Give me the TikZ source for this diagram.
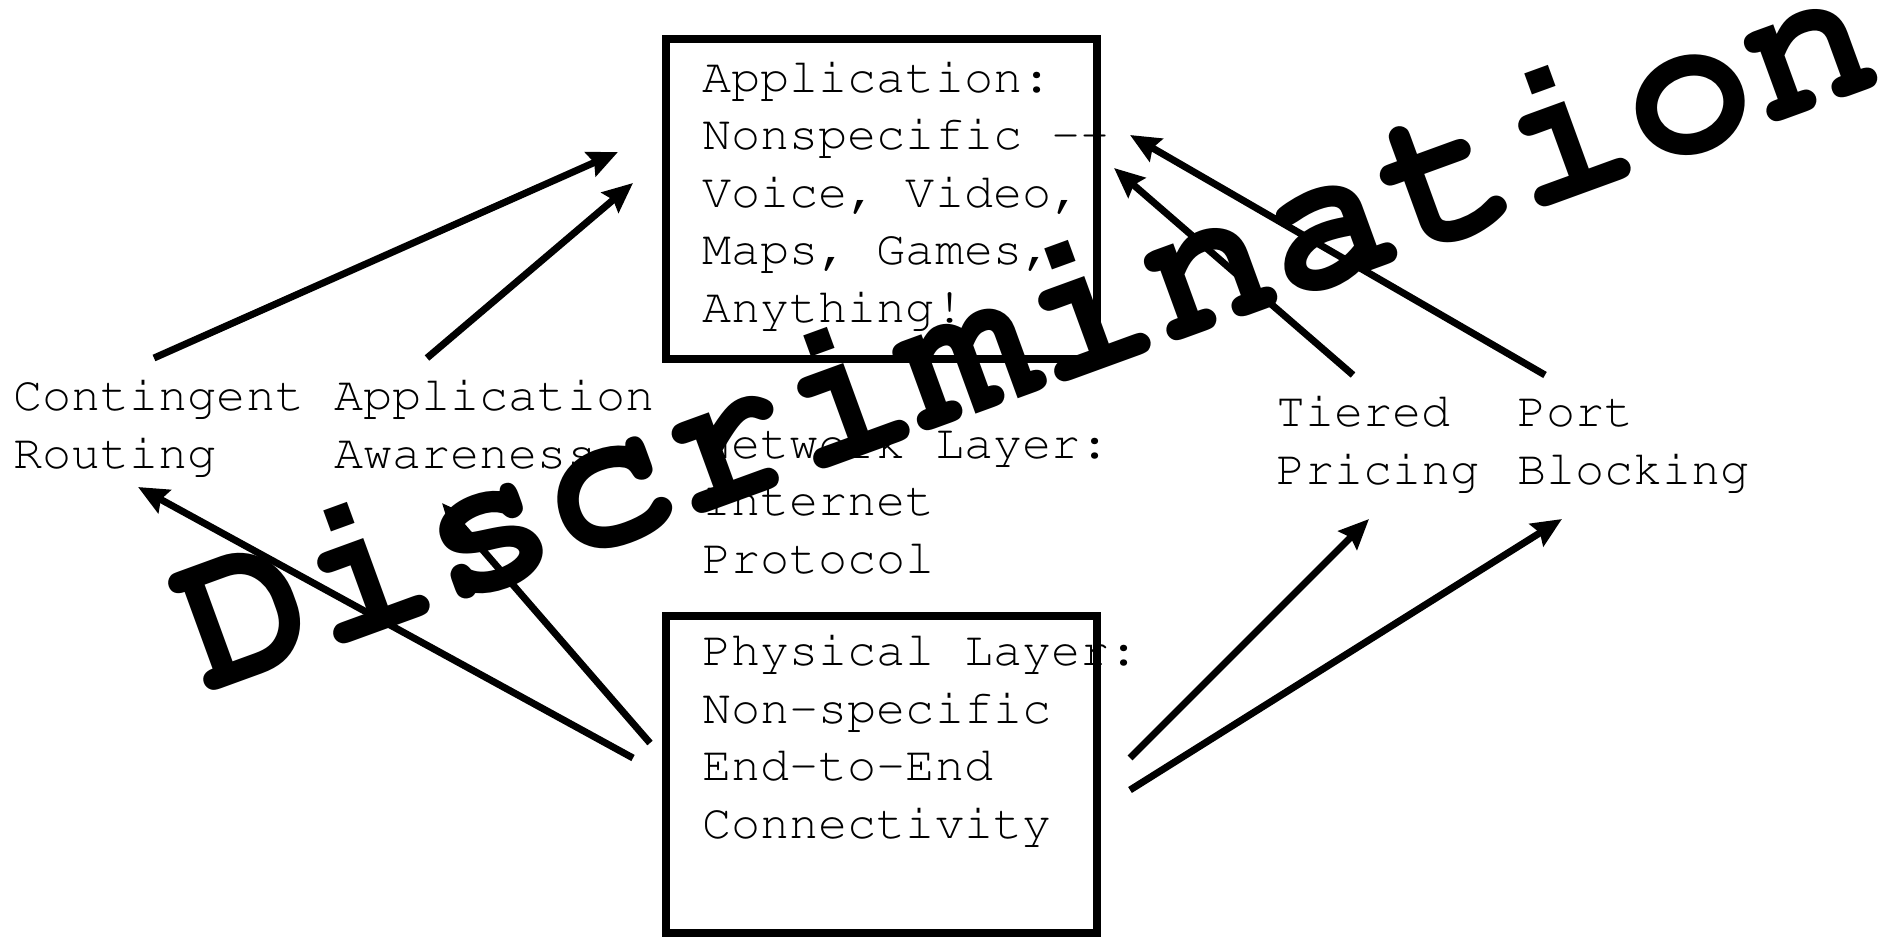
\documentclass[tikz,border=0pt]{standalone}
\usepackage[T1]{fontenc}
\usetikzlibrary{arrows.meta, positioning}
\newcommand{\courier}{\fontencoding{T1}\fontfamily{pcr}\selectfont}

\begin{document}
\begin{tikzpicture}[
            x=1pt, y=-1pt,
            layer/.style={draw, line width=8pt, minimum width=431pt, minimum height=320pt, inner sep=0pt},
            note/.style={font=\courier\fontsize{48.5}{57.5}\selectfont, align=left, anchor=base west, inner sep=0pt},
            link/.style={line width=7pt, -{Stealth[length=30pt, width=26pt, inset=4pt]}},
            stamp/.style={font=\courier\bfseries\fontsize{213}{213}\selectfont, inner sep=0pt, anchor=base, rotate=20}
        ]
            \fill[white] (0,0) rectangle (1900,937);
            \useasboundingbox (0,0) rectangle (1900,937);
            % Layer boxes
            \node[layer] (appbox) at (881.5,199) {};
            \node[layer, minimum height=317pt] (physbox) at (881.5,774.5) {};
            % Layer texts (placed by the baseline of their last line)
            \node[note] (apptext) at (702,322) {Application:\\Nonspecific -{}-\\Voice, Video,\\Maps, Games,\\Anything!};
            \node[note] (nettext) at (702,573) {Network Layer:\\Internet\\Protocol};
            \node[note] (phystext) at (702,838) {Physical Layer:\\Non-specific\\End-to-End\\Connectivity};
            % Practices
            \node[note] (routing) at (13,468) {Contingent\\Routing};
            \node[note] (aware) at (334,468) {Application\\Awareness};
            \node[note] (tiered) at (1276,484) {Tiered\\Pricing};
            \node[note] (port) at (1517,484) {Port\\Blocking};
            % Arrow ends
            \coordinate (routingUp) at (154,358);
            \coordinate (awareUp) at (427,358);
            \coordinate (tieredUp) at (1353,375);
            \coordinate (portUp) at (1545,375);
            \coordinate (appIn1) at (618,152);
            \coordinate (appIn2) at (633,183);
            \coordinate (appIn3) at (1114,168);
            \coordinate (appIn4) at (1130,135);
            \coordinate (physOut1) at (633,758);
            \coordinate (physOut2) at (650,743);
            \coordinate (physOut3) at (1130,758);
            \coordinate (physOut4) at (1130,790);
            \coordinate (routingDown) at (138,487);
            \coordinate (awareDown) at (442,503);
            \coordinate (tieredDown) at (1369,519);
            \coordinate (portDown) at (1562,519);
            \draw[link] (routingUp) -- (appIn1);
            \draw[link] (awareUp) -- (appIn2);
            \draw[link] (tieredUp) -- (appIn3);
            \draw[link] (portUp) -- (appIn4);
            \draw[link] (physOut1) -- (routingDown);
            \draw[link] (physOut2) -- (awareDown);
            \draw[link] (physOut3) -- (tieredDown);
            \draw[link] (physOut4) -- (portDown);
            % Slanted banner
            \node[stamp] (banner) at (1046,389) {Discrimination};
        \end{tikzpicture}
\end{document}
